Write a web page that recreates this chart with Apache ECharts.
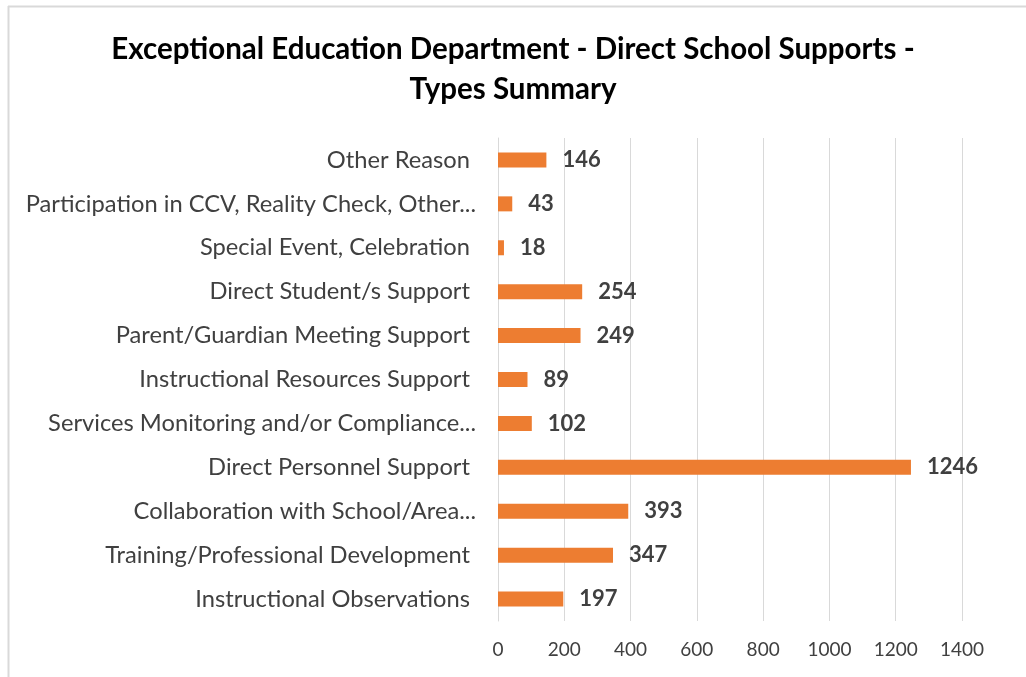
<!DOCTYPE html>
<html>
<head>
<meta charset="utf-8">
<script src="https://cdn.jsdelivr.net/npm/echarts@6/dist/echarts.min.js"></script>
<style>
  html, body { margin: 0; padding: 0; background: #ffffff; }
  #chart { width: 1026px; height: 677px; }
</style>
</head>
<body>
<div id="chart"></div>
<script>
// Support categories, listed bottom to top as the axis draws them
const categories = [
  'Instructional Observations ',
  'Training/Professional Development ',
  'Collaboration with School/Area...',
  'Direct Personnel Support ',
  'Services Monitoring and/or Compliance...',
  'Instructional Resources Support ',
  'Parent/Guardian Meeting Support ',
  'Direct Student/s Support ',
  'Special Event, Celebration ',
  'Participation in CCV, Reality Check, Other...',
  'Other Reason '
];
const supportCounts = [197, 347, 393, 1246, 102, 89, 249, 254, 18, 43, 146];
const xTicks = [0, 200, 400, 600, 800, 1000, 1200, 1400];

const titleText = 'Exceptional Education Department - Direct School Supports -\nTypes Summary';
const barColor = '#ED7D31';
const textColor = '#404040';
const fontFamily = 'Lato, "Open Sans", sans-serif';

const chart = echarts.init(document.getElementById('chart'));
chart.setOption({
  backgroundColor: '#ffffff',
  animation: false,
  title: {
    text: titleText,
    left: 'center',
    top: 24,
    textStyle: {
      fontFamily: fontFamily,
      fontSize: 29.5,
      fontWeight: 'bold',
      color: '#000000',
      lineHeight: 40
    }
  },
  graphic: [
    { type: 'line', shape: { x1: 8, y1: 6.5, x2: 1026, y2: 6.5 }, style: { stroke: '#d9d9d9', lineWidth: 2 } },
    { type: 'line', shape: { x1: 8.5, y1: 6, x2: 8.5, y2: 677 }, style: { stroke: '#d9d9d9', lineWidth: 2 } }
  ],
  grid: {
    left: 498,
    right: 64,
    top: 138,
    bottom: 56,
    containLabel: false
  },
  xAxis: {
    type: 'value',
    min: xTicks[0],
    max: xTicks[xTicks.length - 1],
    interval: xTicks[1] - xTicks[0],
    axisLine: { show: false },
    axisTick: { show: false },
    axisLabel: {
      color: textColor,
      fontFamily: fontFamily,
      fontSize: 19,
      margin: 19,
      formatter: (v) => String(v)
    },
    splitLine: { lineStyle: { color: '#d9d9d9', width: 1 } }
  },
  yAxis: {
    type: 'category',
    data: categories,
    axisLine: { show: true, lineStyle: { color: '#d9d9d9' } },
    axisTick: { show: false },
    axisLabel: {
      color: textColor,
      fontFamily: fontFamily,
      fontSize: 23.7,
      margin: 22
    }
  },
  series: [{
    type: 'bar',
    data: supportCounts,
    barWidth: 15,
    itemStyle: { color: barColor },
    label: {
      show: true,
      position: 'right',
      distance: 16,
      color: textColor,
      fontFamily: fontFamily,
      fontSize: 22,
      fontWeight: 'bold'
    }
  }]
});
</script>
</body>
</html>
